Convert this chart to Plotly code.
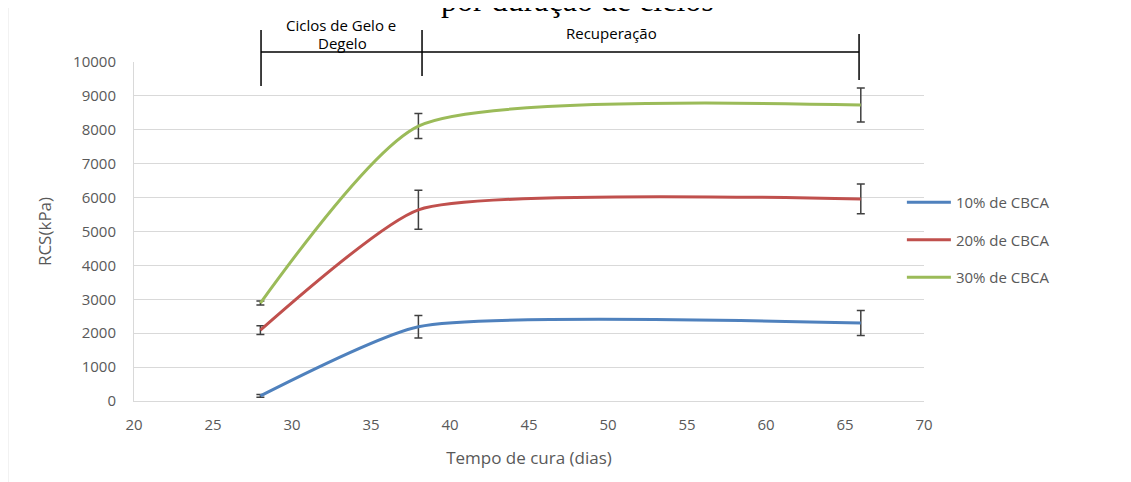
import plotly.graph_objects as go

dias = [28, 38, 66]
series_names = ["10% de CBCA", "20% de CBCA", "30% de CBCA"]
rcs_10 = [150, 2190, 2300]
rcs_20 = [2090, 5640, 5960]
rcs_30 = [2890, 8110, 8730]
err_10 = [40, 330, 370]
err_20 = [130, 575, 440]
err_30 = [60, 370, 500]
colors = ["#4F81BD", "#C0504D", "#9BBB59"]
smooth = [0.55, 0.5, 0.6]

x_ticks = list(range(20, 75, 5))
y_ticks = list(range(0, 11000, 1000))
y_ticktext = [str(v) for v in y_ticks]

FONT = "Open Sans"
TICK_COLOR = "#595959"

fig = go.Figure()
for name, vals, errs, col, sm in zip(series_names, [rcs_10, rcs_20, rcs_30],
                                     [err_10, err_20, err_30], colors, smooth):
    fig.add_trace(go.Scatter(
        x=dias, y=vals, name=name, mode="lines", legendgroup=name,
        line=dict(color=col, width=3, shape="spline", smoothing=sm),
        error_y=dict(type="data", array=errs, visible=True,
                     color="#404040", thickness=1.5, width=4),
    ))

# page has an 8px body margin; plot area spans page x 134..924, y 62..401
fig.update_layout(
    width=1123, height=474,
    margin=dict(l=126, r=207, t=54, b=81),
    paper_bgcolor="white", plot_bgcolor="white",
    font=dict(family=FONT, color=TICK_COLOR, size=15),
    showlegend=True,
    legend=dict(x=0.972, xanchor="left", y=0.475, yanchor="middle",
                font=dict(family=FONT, size=15, color=TICK_COLOR),
                traceorder="grouped", tracegroupgap=15, itemwidth=44,
                bgcolor="rgba(0,0,0,0)"),
    xaxis=dict(range=[20, 70], tickvals=x_ticks, showgrid=False,
               zeroline=False, showline=True, linecolor="#d9d9d9", linewidth=1,
               ticks="", ticklabelstandoff=10,
               tickfont=dict(size=15, color=TICK_COLOR),
               title=dict(text="Tempo de cura (dias)", font=dict(size=17, color=TICK_COLOR),
                          standoff=19)),
    yaxis=dict(range=[0, 10000], tickvals=y_ticks, ticktext=y_ticktext, showgrid=True,
               gridcolor="#d9d9d9", gridwidth=1, zeroline=False,
               showline=True, linecolor="#d9d9d9", linewidth=1, ticks="",
               ticklabelstandoff=14,
               tickfont=dict(size=15, color=TICK_COLOR),
               title=dict(text="RCS(kPa)", font=dict(size=17, color=TICK_COLOR),
                          standoff=17)),
)

def py(pix):
    # convert a page pixel row to paper coordinates of the plot area
    return (401 - pix) / 339.0

# partially visible title (first line lies above the visible frame)
fig.add_annotation(text="por duração de ciclos", xref="paper", yref="paper",
                   x=0.562, y=py(0), showarrow=False,
                   font=dict(family="Liberation Serif", size=32, color="black"),
                   xanchor="center", yanchor="middle")

# bracket for phases
bk = dict(color="black", width=1.5)
fig.add_shape(type="line", xref="x", yref="paper", x0=28.04, x1=65.89,
              y0=py(52), y1=py(52), line=bk)
fig.add_shape(type="line", xref="x", yref="paper", x0=28.04, x1=28.04,
              y0=py(30), y1=py(86), line=bk)
fig.add_shape(type="line", xref="x", yref="paper", x0=38.23, x1=38.23,
              y0=py(30), y1=py(76), line=bk)
fig.add_shape(type="line", xref="x", yref="paper", x0=65.89, x1=65.89,
              y0=py(34), y1=py(80), line=bk)

ann_font = dict(family=FONT, size=15, color="black")
fig.add_annotation(text="Ciclos de Gelo e", xref="x", yref="paper",
                   x=33.1, y=py(25), showarrow=False, font=ann_font,
                   xanchor="center", yanchor="middle")
fig.add_annotation(text="Degelo", xref="x", yref="paper",
                   x=33.2, y=py(43), showarrow=False, font=ann_font,
                   xanchor="center", yanchor="middle")
fig.add_annotation(text="Recuperação", xref="x", yref="paper",
                   x=50.2, y=py(33), showarrow=False, font=ann_font,
                   xanchor="center", yanchor="middle")

# faint document border at left
fig.add_shape(type="line", xref="paper", yref="paper",
              x0=-126 / 790.0, x1=-126 / 790.0, y0=-81 / 339.0, y1=py(0),
              line=dict(color="#e6e6e6", width=1))

fig.write_html("out.html")
